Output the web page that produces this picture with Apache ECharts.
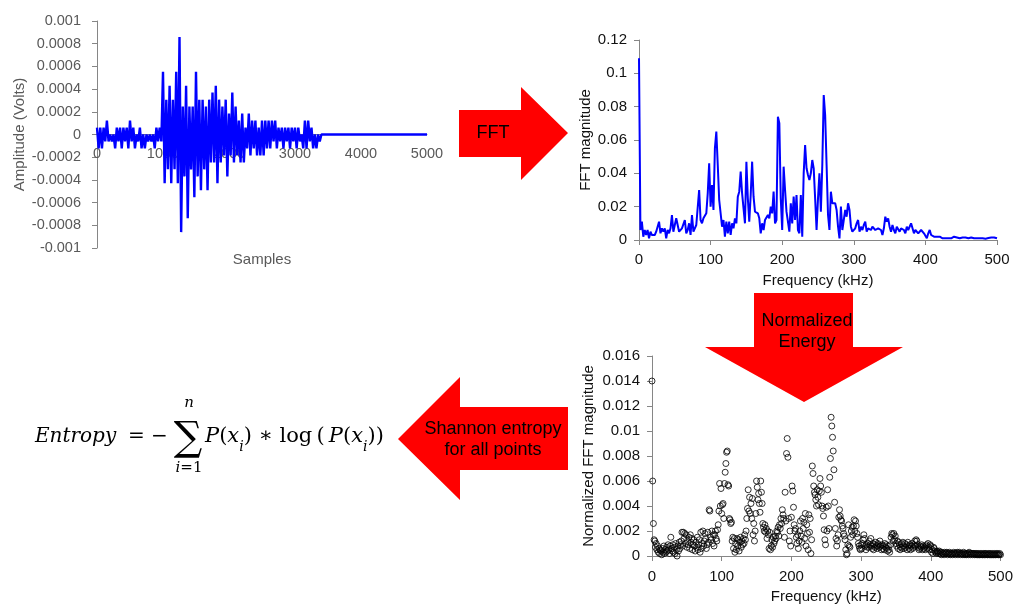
<!DOCTYPE html>
<html><head><meta charset="utf-8">
<script src="https://cdn.jsdelivr.net/npm/echarts/dist/echarts.min.js"></script>
<style>html,body{margin:0;padding:0;background:#fff}#c{width:1016px;height:608px}</style>
</head><body><div id="c"></div>
<script>
// ---------- Data ----------
// Waveform as a min/max envelope: one window every 50 samples from sample 0 to 3400,
// peak and trough amplitude of each window in microvolts. Signal is 0 from 3400 to 5000.
const windowSize = 50;
const signalEnd = 3400;
const recordLength = 5000;
const waveMax = [61,61,61,123,0,0,61,61,61,61,123,61,0,61,0,0,0,0,61,61,
553,307,430,307,553,860,246,430,246,246,553,307,307,246,307,369,430,307,246,307,184,369,246,123,184,61,
184,123,123,61,123,123,123,123,123,61,61,61,61,61,61,61,0,123,123,61,0,0];
const waveMin = [-123,-123,-61,-61,-61,-123,-61,-123,-61,-123,-61,-123,-61,-123,-123,-61,-61,-123,-61,-61,
-430,-307,-430,-307,-430,-860,-369,-737,-307,-553,-369,-492,-307,-492,-246,-246,-430,-246,-184,-369,-184,-246,-184,-246,-246,-123,
-184,-123,-184,-184,-184,-123,-123,-61,-123,-61,-123,-61,-123,-61,-123,-61,-123,-123,-61,-123,-123,-61];

// FFT magnitude, one value every 2 kHz from 0 to 500 kHz
const fftStep = 2;
const fftMag = [0.109,0.006,0.011,0.002,0.006,0.003,0.006,0.001,0.005,0.003,
0.002,0.003,0.005,0.004,0.011,0.004,0.007,0.005,0.007,0.001,
0.006,0.004,0.007,0.015,0.005,0.004,0.013,0.014,0.005,0.004,
0.007,0.006,0.012,0.004,0.006,0.010,0.003,0.015,0.005,0.004,
0.009,0.008,0.030,0.012,0.010,0.013,0.012,0.016,0.028,0.046,
0.020,0.033,0.018,0.055,0.065,0.045,0.024,0.023,0.008,0.012,
0.002,0.011,0.004,0.011,0.003,0.010,0.007,0.013,0.010,0.026,
0.029,0.041,0.028,0.019,0.010,0.047,0.025,0.011,0.027,0.047,
0.026,0.017,0.018,0.016,0.013,0.004,0.010,0.006,0.012,0.011,
0.015,0.013,0.020,0.016,0.029,0.010,0.012,0.074,0.070,0.025,
0.006,0.044,0.030,0.017,0.018,0.005,0.022,0.010,0.026,0.012,
0.027,0.006,0.004,0.027,0.002,0.040,0.057,0.043,0.039,0.036,
0.040,0.048,0.043,0.025,0.006,0.025,0.040,0.017,0.045,0.087,
0.075,0.045,0.015,0.006,0.029,0.022,0.023,0.022,0.018,0.008,
0.001,0.020,0.006,0.012,0.018,0.014,0.022,0.018,0.008,0.005,
0.004,0.007,0.010,0.012,0.005,0.008,0.006,0.009,0.011,0.005,
0.007,0.007,0.006,0.008,0.009,0.006,0.005,0.007,0.008,0.006,
0.003,0.007,0.014,0.011,0.013,0.008,0.005,0.009,0.006,0.004,
0.008,0.009,0.005,0.007,0.008,0.006,0.004,0.008,0.006,0.005,
0.010,0.009,0.004,0.006,0.006,0.004,0.005,0.006,0.007,0.004,
0.003,0.001,0.004,0.006,0.003,0.002,0.002,0.003,0.002,0.001,
0.002,0.002,0.001,0.002,0.001,0.001,0.001,0.0015,0.001,0.0015,
0.002,0.002,0.0015,0.001,0.001,0.001,0.0015,0.001,0.0015,0.002,
0.001,0.001,0.0015,0.001,0.001,0.0008,0.001,0.0015,0.001,0.0015,
0.001,0.001,0.0008,0.001,0.0012,0.001,0.0015,0.001,0.0015,0.002,
0.001];

// Normalized FFT magnitude in units of 1e-4, one value every 1 kHz from 0 to 500 kHz
const normStep = 1;
const normMag = [140,60,26,13,12,7,10,5,8,3, 6,2,5,4,1,6,3,8,2,5, 3,7,4,9,5,2,8,15,6,4, 9,3,7,2,10,5,0,8,4,11,
6,9,12,19,8,19,14,18,10,17, 7,12,9,15,6,17,11,14,5,9, 13,8,4,11,7,15,5,9,13,3, 19,6,10,20,8,12,18,14,6,9,
19,11,37,36,15,13,20,10,17,8, 17,20,14,12,21,25,36,58,40,54, 34,41,42,30,58,67,74,83,84,57, 56,30,29,26,27,12,15,6,14,3,
10,5,14,8,13,4,11,15,7,12, 9,14,10,17,13,20,30,38,53,36, 47,34,42,30,46,17,26,12,20,34, 60,55,45,50,42,35,60,51,42,26,
23,20,25,19,22,14,20,17,6,19, 5,8,13,7,15,10,12,16,14,20, 19,23,16,25,22,30,26,37,33,30, 15,51,28,82,94,79,30,12,20,8,
31,56,52,39,25,20,22,15,10,17, 6,12,20,28,16,11,30,22,27,14, 34,8,25,18,5,33,19,30,2,13, 72,66,56,51,49,45,40,53,47,41,
52,62,56,51,40,38,32,21,13,9, 39,20,53,40,22,63,78,111,104,95, 84,69,43,22,14,8,12,17,31,37, 32,29,28,24,22,18,16,13,5,1,
2,9,25,8,7,15,20,23,17,24, 29,20,28,24,18,15,10,8,6,5, 9,6,10,13,17,14,8,5,9,7, 10,7,12,9,14,8,6,10,5,9,
7,11,8,6,10,9,7,12,8,5, 9,6,8,5,10,7,9,6,4,8, 5,3,9,15,18,17,12,18,13,16, 10,8,12,6,11,9,5,7,10,6,
11,8,6,10,7,9,5,11,8,6, 9,5,8,10,6,7,9,12,8,13, 12,9,7,5,6,8,7,9,5,8, 6,7,5,8,9,6,10,7,5,9,
8,3,5,2,7,6,4,3,2,4, 3,2,4,2,3,1,3,2,2,1, 3,2,2,3,1,2,2,3,1,2, 2,1,2,3,2,1,2,2,3,1,
2,3,2,1,2,2,1,3,2,1, 2,1,2,2,1,3,2,1,2,2, 1,2,2,1,2,1,2,1,2,1, 1,2,1,2,1,1,2,1,2,1,
2,1,1,2,1,2,1,1,2,1, 1,2,1,1,2,1,2,1,1,2, 1];

// Axis tick settings
const ampTicks = {min:-0.001, max:0.001, interval:0.0002};
const sampleTicks = {min:0, max:5000, interval:1000};
const freqTicks = {min:0, max:500, interval:100};
const fftTicks = {min:0, max:0.12, interval:0.02};
const normTicks = {min:0, max:0.016, interval:0.002};

// ---------- Build ----------
const waveData = [];
waveMax.forEach((hi, i) => {
  waveData.push([i * windowSize, hi * 1e-6]);
  waveData.push([i * windowSize + windowSize / 2, waveMin[i] * 1e-6]);
});
waveData.push([signalEnd, 0], [recordLength, 0]);
const fftData = fftMag.map((v, i) => [i * fftStep, v]);
const normData = normMag.map((v, i) => [i * normStep, v * 1e-4]);

const SANS = 'Liberation Sans, Arial, sans-serif';
const SERIF = 'DejaVu Serif, serif';
const GREY = '#595959';
const DARK = '#111';
const AXIS = '#868686';
const fmt = v => String(+v.toFixed(4));
const plain = v => String(v);

function valAxis(o) {
  return Object.assign({
    type: 'value', splitLine: {show: false},
    axisLine: {show: true, onZero: false, lineStyle: {color: AXIS, width: 1}},
    axisTick: {show: true, length: 5, lineStyle: {color: AXIS}},
    nameLocation: 'middle'
  }, o);
}

const chart = echarts.init(document.getElementById('c'), null, {renderer: 'canvas'});
const ff = (c) => ({color: c, fontSize: 15, fontFamily: SANS});

chart.setOption({
  animation: false,
  textStyle: {fontFamily: SANS},
  grid: [
    {left: 97, top: 21, width: 330, height: 227},
    {left: 639, top: 40, width: 358, height: 200},
    {left: 652, top: 356, width: 351, height: 200}
  ],
  xAxis: [
    valAxis(Object.assign({gridIndex: 0, name: 'Samples', nameGap: 118, nameTextStyle: ff(GREY),
      offset: -113.5,
      axisLine: {show: true, onZero: false, lineStyle: {color: AXIS}}, axisTick: {show: false},
      axisLabel: {color: GREY, fontSize: 14.5, margin: 12, fontFamily: SANS, formatter: plain}}, sampleTicks)),
    valAxis(Object.assign({gridIndex: 1, name: 'Frequency (kHz)', nameGap: 33, nameTextStyle: ff(DARK),
      axisLabel: {color: DARK, fontSize: 15, margin: 12, fontFamily: SANS, formatter: plain}}, freqTicks)),
    valAxis(Object.assign({gridIndex: 2, name: 'Frequency (kHz)', nameGap: 33, nameTextStyle: ff(DARK),
      axisLabel: {color: DARK, fontSize: 15, margin: 13, fontFamily: SANS, formatter: plain}}, freqTicks))
  ],
  yAxis: [
    valAxis(Object.assign({gridIndex: 0, name: 'Amplitude (Volts)', nameGap: 70, nameTextStyle: ff(GREY),
      axisLabel: {color: GREY, fontSize: 14.5, margin: 16, formatter: fmt, fontFamily: SANS}}, ampTicks)),
    valAxis(Object.assign({gridIndex: 1, name: 'FFT magnitude', nameGap: 46, nameTextStyle: ff(DARK),
      axisLabel: {color: DARK, fontSize: 15, margin: 12, formatter: fmt, fontFamily: SANS}}, fftTicks)),
    valAxis(Object.assign({gridIndex: 2, name: 'Normalized FFT magnitude', nameGap: 56, nameTextStyle: ff(DARK),
      axisLabel: {color: DARK, fontSize: 15, margin: 12, formatter: fmt, fontFamily: SANS}}, normTicks))
  ],
  series: [
    {type: 'line', xAxisIndex: 0, yAxisIndex: 0, data: waveData, showSymbol: false,
      lineStyle: {color: '#0000ff', width: 2.4}, z: 3},
    {type: 'line', xAxisIndex: 1, yAxisIndex: 1, data: fftData, showSymbol: false,
      lineStyle: {color: '#0000ff', width: 2}, z: 3},
    {type: 'scatter', xAxisIndex: 2, yAxisIndex: 2, data: normData, symbol: 'circle', symbolSize: 6,
      itemStyle: {color: 'rgba(0,0,0,0)', borderColor: '#000', borderWidth: 1}, z: 3}
  ],
  graphic: [
    // FFT arrow
    {type: 'polygon', z: 100, shape: {points: [[459,110],[521,110],[521,87],[568,133],[521,180],[521,157],[459,157]]},
      style: {fill: '#ff0000'}},
    {type: 'text', z: 101, x: 493, y: 133, style: {text: 'FFT', fill: '#000', font: '18px Liberation Sans', align: 'center', verticalAlign: 'middle'}},
    // Normalized energy arrow
    {type: 'polygon', z: 100, shape: {points: [[754,293],[853,293],[853,347],[903,347],[804,402],[705,347],[754,347]]},
      style: {fill: '#ff0000'}},
    {type: 'text', z: 101, x: 807, y: 332, style: {text: 'Normalized\nEnergy', fill: '#000', font: '18px Liberation Sans', lineHeight: 21, align: 'center', verticalAlign: 'middle'}},
    // Shannon entropy arrow
    {type: 'polygon', z: 100, shape: {points: [[398,439],[460,377],[460,407],[568,407],[568,470],[460,470],[460,500]]},
      style: {fill: '#ff0000'}},
    {type: 'text', z: 101, x: 493, y: 440, style: {text: 'Shannon entropy\nfor all points', fill: '#000', font: '18px Liberation Sans', lineHeight: 21, align: 'center', verticalAlign: 'middle'}},
    // Formula
    {type: 'text', z: 101, x: 35, y: 437, style: {text: 'Entropy', fill: '#000', font: 'italic 20px DejaVu Serif', align: 'left', verticalAlign: 'middle'}},
    {type: 'text', z: 101, x: 136.5, y: 437, style: {text: '=', fill: '#000', font: '20px DejaVu Serif', align: 'center', verticalAlign: 'middle'}},
    {type: 'text', z: 101, x: 159.5, y: 437, style: {text: '\u2212', fill: '#000', font: '20px DejaVu Serif', align: 'center', verticalAlign: 'middle'}},
    {type: 'text', z: 101, x: 188, y: 440, style: {text: '\u2211', fill: '#000', font: '40px DejaVu Serif', align: 'center', verticalAlign: 'middle'}},
    {type: 'text', z: 101, x: 189, y: 403, style: {text: 'n', fill: '#000', font: 'italic 15px DejaVu Serif', align: 'center', verticalAlign: 'middle'}},
    {type: 'text', z: 101, x: 189, y: 468, style: {text: '{i|i}{r|=1}', align: 'center', verticalAlign: 'middle',
      rich: {i: {fontFamily: SERIF, fontStyle: 'italic', fontSize: 15, fill: '#000'}, r: {fontFamily: SERIF, fontSize: 15, fill: '#000'}}}},
    {type: 'text', z: 101, x: 205, y: 437, style: {
      text: '{i|P}{r|(}{i|x}{s|i}{r|) \u2217 log\u2009(\u2009}{i|P}{r|(}{i|x}{s|i}{r|))}',
      align: 'left', verticalAlign: 'middle',
      rich: {
        i: {fontFamily: SERIF, fontStyle: 'italic', fontSize: 21, lineHeight: 34, verticalAlign: 'middle', fill: '#000'},
        r: {fontFamily: SERIF, fontSize: 21, lineHeight: 34, verticalAlign: 'middle', fill: '#000'},
        s: {fontFamily: SERIF, fontStyle: 'italic', fontSize: 14, lineHeight: 14, verticalAlign: 'bottom', fill: '#000'}
      }}}
  ]
});
</script></body></html>
